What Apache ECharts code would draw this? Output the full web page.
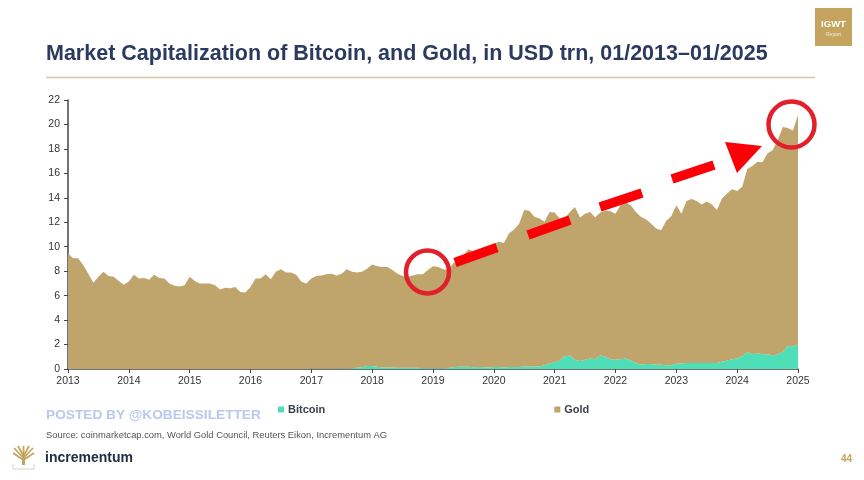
<!DOCTYPE html>
<html>
<head>
<meta charset="utf-8">
<style>html,body{margin:0;padding:0;background:#fff}#mycharts{width:864px;height:480px}</style>
<script src="https://cdn.jsdelivr.net/npm/echarts@6/dist/echarts.min.js"></script>
</head>
<body>
<div id="mycharts"></div>
<script>
// monthly labels 2013-01 .. 2025-01
var months = [];
for (var y = 2013; y <= 2025; y++) {
    for (var m = 1; m <= (y === 2025 ? 1 : 12); m++) {
        months.push(y + '-' + (m < 10 ? '0' + m : m));
    }
}
var yTicks = [0, 2, 4, 6, 8, 10, 12, 14, 16, 18, 20, 22];

var bitcoin = [
    0.01,0.01,0.01,0.01,0.01,0.01,0.01,0.01,0.01,0.01,0.01,0.01,
    0.01,0.01,0.01,0.01,0.01,0.01,0.01,0.01,0.01,0.01,0.01,0.01,
    0.01,0.01,0.01,0.01,0.01,0.01,0.01,0.01,0.01,0.01,0.01,0.01,
    0.01,0.01,0.01,0.01,0.01,0.01,0.01,0.01,0.01,0.01,0.01,0.01,
    0.02,0.02,0.02,0.02,0.03,0.04,0.04,0.05,0.07,0.1,0.15,0.25,
    0.25,0.18,0.12,0.12,0.12,0.1,0.1,0.1,0.1,0.1,0.07,0.06,
    0.06,0.06,0.07,0.09,0.15,0.18,0.18,0.18,0.15,0.16,0.14,0.13,
    0.16,0.16,0.12,0.16,0.17,0.17,0.2,0.21,0.2,0.2,0.3,0.45,
    0.55,0.7,1.05,1.1,0.75,0.65,0.75,0.85,0.8,1.1,1.0,0.8,
    0.75,0.8,0.85,0.7,0.5,0.35,0.4,0.4,0.35,0.35,0.3,0.3,
    0.45,0.45,0.5,0.5,0.5,0.5,0.5,0.5,0.5,0.6,0.7,0.8,
    0.85,1.05,1.4,1.2,1.3,1.2,1.2,1.1,1.2,1.4,1.9,1.85,
    2.0
];
var gold = [
    9.44,9.04,9.04,8.49,7.79,7.04,7.54,7.94,7.59,7.54,7.19,6.89,
    7.14,7.69,7.39,7.44,7.29,7.69,7.44,7.39,6.99,6.79,6.74,6.84,
    7.54,7.19,6.99,6.99,6.99,6.84,6.49,6.64,6.59,6.69,6.29,6.24,
    6.69,7.39,7.39,7.74,7.34,7.94,8.14,7.89,7.89,7.69,7.14,6.99,
    7.38,7.58,7.63,7.73,7.77,7.61,7.76,8.1,7.88,7.8,7.8,7.95,
    8.3,8.22,8.23,8.23,7.98,7.7,7.5,7.45,7.55,7.65,7.68,8.04,
    8.34,8.29,8.08,8.01,8.5,8.72,9.12,9.62,9.45,9.54,9.71,9.87,
    10.09,10.24,10.18,10.94,11.23,11.73,12.8,12.74,12.25,12.1,11.75,12.4,
    12.25,11.6,11.25,11.75,12.5,11.75,11.95,12.0,11.6,11.7,11.95,12.1,
    11.95,12.6,12.75,12.7,12.35,12.1,11.85,11.5,11.15,11.0,11.8,12.2,
    12.95,12.25,13.25,13.4,13.25,12.95,13.2,12.95,12.5,13.35,13.65,13.9,
    13.7,13.85,14.95,15.4,15.65,15.7,16.45,16.8,17.5,18.4,17.8,17.65,
    18.75
];

var FONT = '"Liberation Sans", Arial, sans-serif';
var NAVY = '#2b3a5e';
var GOLD = '#bfa46c';
var MINT = '#4fdfb8';
var RED = '#fb0007';
var RING = '#e2202c';

function dash(x1, y1, x2, y2) {
    return { type: 'line', z: 50, shape: { x1: x1, y1: y1, x2: x2, y2: y2 }, style: { stroke: RED, lineWidth: 9.5 } };
}
function ring(cx, cy, r) {
    return { type: 'circle', z: 50, shape: { cx: cx, cy: cy, r: r }, style: { fill: 'none', stroke: RING, lineWidth: 4.5 } };
}
function label(x, y, text, size, color, weight, align) {
    return {
        type: 'text', z: 50, x: x, y: y,
        style: { text: text, fontFamily: FONT, fontSize: size, fill: color, fontWeight: weight || 'normal', align: align || 'left', verticalAlign: 'middle' }
    };
}
function branch(x1, y1, x2, y2) {
    return { type: 'line', z: 50, shape: { x1: x1, y1: y1, x2: x2, y2: y2 }, style: { stroke: '#c4a45f', lineWidth: 1.8 } };
}

var myChart = echarts.init(document.getElementById('mycharts'));
var option = {
    backgroundColor: '#fff',
    animation: false,
    textStyle: { fontFamily: FONT },
    title: {
        text: 'Market Capitalization of Bitcoin, and Gold, in USD trn, 01/2013\u201301/2025',
        left: 46, top: 43, padding: 0,
        textStyle: { color: NAVY, fontSize: 21.5, fontWeight: 'bold', fontFamily: FONT }
    },
    legend: {
        left: 273, top: 399,
        itemWidth: 6, itemHeight: 6, itemGap: 229,
        icon: 'rect',
        data: ['Bitcoin', 'Gold'],
        textStyle: { color: '#3a3f4c', fontSize: 11, fontWeight: 'bold', fontFamily: FONT, padding: [0, 0, 0, -1] }
    },
    grid: { left: 68, right: 66, top: 100, bottom: 111 },
    xAxis: {
        type: 'category',
        data: months,
        boundaryGap: false,
        axisLine: { lineStyle: { color: '#444', width: 1.5 } },
        axisTick: { interval: 11, length: 4, lineStyle: { color: '#444' } },
        axisLabel: {
            interval: 11, color: '#333', fontSize: 10.5, fontFamily: FONT, margin: 7,
            formatter: function (v) { return v.slice(0, 4); }
        }
    },
    yAxis: {
        type: 'value',
        min: yTicks[0], max: yTicks[yTicks.length - 1], interval: 2,
        splitLine: { show: false },
        axisLine: { show: true, lineStyle: { color: '#444', width: 1.5 } },
        axisTick: { show: true, length: 4, lineStyle: { color: '#444' } },
        axisLabel: { color: '#333', fontSize: 10.5, fontFamily: FONT, margin: 8 }
    },
    series: [{
        name: 'Bitcoin',
        type: 'line',
        stack: 'cap',
        data: bitcoin,
        symbol: 'none',
        lineStyle: { width: 0 },
        itemStyle: { color: MINT },
        areaStyle: { color: MINT, opacity: 1 }
    }, {
        name: 'Gold',
        type: 'line',
        stack: 'cap',
        data: gold,
        symbol: 'none',
        lineStyle: { width: 0 },
        itemStyle: { color: GOLD },
        areaStyle: { color: GOLD, opacity: 1 }
    }],
    graphic: [
        // header rule and badge
        { type: 'line', z: 50, shape: { x1: 46, y1: 77.5, x2: 815, y2: 77.5 }, style: { stroke: '#d9c7a3', lineWidth: 1.4 } },
        { type: 'rect', z: 50, shape: { x: 815, y: 8, width: 37, height: 38 }, style: { fill: '#c4a45f' } },
        label(833.5, 24.5, 'IGWT', 9.5, '#fff', 'bold', 'center'),
        label(833.5, 34.5, 'Report', 5, '#f3ead6', 'normal', 'center'),
        // annotations on the chart
        dash(455, 262.5, 497, 247.5),
        dash(528, 235, 570, 220),
        dash(600, 207, 642, 193),
        dash(672, 179, 714, 165),
        { type: 'polygon', z: 50, shape: { points: [[725, 142], [762, 146], [737, 173]] }, style: { fill: RED } },
        ring(427.5, 272, 21.5),
        ring(791.5, 124.5, 23),
        // footer
        label(46, 415, 'POSTED BY @KOBEISSILETTER', 13.7, '#b9c9ee', 'bold'),
        label(46, 435, 'Source: coinmarketcap.com, World Gold Council, Reuters Eikon, Incrementum AG', 9.35, '#555'),
        label(45, 458, 'incrementum', 14, '#232c44', 'bold'),
        label(852, 459, '44', 10, '#c4a45f', 'bold', 'right'),
        // logo tree
        { type: 'rect', z: 50, shape: { x: 22, y: 454, width: 3, height: 11 }, style: { fill: '#c4a45f' } },
        branch(23.5, 458, 14, 448), branch(23.5, 458, 33, 448),
        branch(23.5, 456, 18, 446), branch(23.5, 456, 29, 446),
        branch(23.5, 456, 23.5, 446), branch(23.5, 460, 13, 453),
        branch(23.5, 460, 34, 453),
        { type: 'line', z: 50, shape: { x1: 13, y1: 464, x2: 13, y2: 469 }, style: { stroke: '#d8d4c8', lineWidth: 1 } },
        { type: 'line', z: 50, shape: { x1: 34, y1: 464, x2: 34, y2: 469 }, style: { stroke: '#d8d4c8', lineWidth: 1 } },
        { type: 'line', z: 50, shape: { x1: 13, y1: 469, x2: 34, y2: 469 }, style: { stroke: '#d8d4c8', lineWidth: 1 } }
    ]
};
myChart.setOption(option);
</script>
</body>
</html>
